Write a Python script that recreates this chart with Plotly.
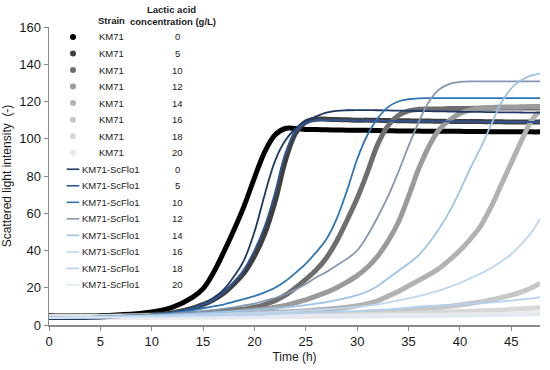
import plotly.graph_objects as go

# ---------------- data ----------------
time_h = [0, 5, 10, 12, 14, 15, 16, 17, 18, 19, 20, 21, 22, 23, 24, 25, 26, 27, 28, 29,
          30, 31, 32, 33, 34, 35, 36, 37, 38, 39, 40, 41, 42, 43, 44, 45, 46, 47, 47.8]

lactic_acid = [0, 5, 10, 12, 14, 16, 18, 20]
strains = ["KM71"] * 8 + ["KM71-ScFlo1"] * 8

km71_0 = [5, 5, 7, 9.5, 15, 19.5, 28, 39, 51, 64, 79, 93, 102, 105.5, 105.5, 105, 105, 104.8, 104.7, 104.6,
          104.5, 104.5, 104.4, 104.3, 104.2, 104.2, 104.1, 104, 104, 104, 104, 103.9, 103.9, 103.8, 103.8, 103.8, 103.8, 103.7, 103.7]
km71_5 = [4.5, 4.5, 5.5, 6.5, 9, 11, 13.5, 17, 22, 28, 37, 49, 66, 88, 103, 109, 110.5, 110.5, 110.3, 110.2,
          110, 110, 109.9, 109.8, 109.7, 109.6, 109.5, 109.5, 109.4, 109.3, 109.3, 109.2, 109.2, 109.1, 109.1, 109, 109, 109, 109]
km71_10 = [4.5, 4.5, 5, 5.5, 6, 6.5, 7, 7.5, 8, 8.5, 9.5, 11, 13, 16, 20, 24.5, 29.5, 36, 45, 56,
           68, 82, 97, 107, 112.5, 115, 115.8, 116, 116, 116.2, 116.3, 116.3, 116.4, 116.4, 116.5, 116.5, 116.5, 116.5, 116.5]
km71_12 = [4.5, 4.5, 5, 5.2, 5.5, 5.8, 6, 6.5, 7, 7.5, 8, 8.5, 9.5, 10.5, 12, 13.5, 15.5, 17.5, 20, 23,
           26.5, 31, 37, 45, 55, 69, 84, 96, 105, 110, 113.5, 115.5, 116.5, 116.8, 117, 117, 117.2, 117.3, 117.3]
km71_14 = [4.5, 4.5, 5, 5, 5.2, 5.3, 5.5, 5.6, 5.8, 6, 6.2, 6.5, 6.8, 7, 7.3, 7.6, 8, 8.5, 9, 9.5,
           10.3, 11.5, 13, 15.5, 18, 21, 24, 27, 30.5, 35, 40, 46, 53, 63, 75, 87, 99, 110, 115]
km71_16 = [4.5, 4.5, 4.8, 4.8, 5, 5, 5, 5.1, 5.2, 5.3, 5.4, 5.5, 5.6, 5.7, 5.8, 5.9, 6, 6.1, 6.2, 6.3,
           6.5, 6.7, 7, 7.3, 7.6, 8, 8.4, 8.9, 9.4, 10, 10.7, 11.5, 12.4, 13.5, 14.7, 16, 17.8, 20, 22.5]
km71_18 = [4.5, 4.5, 4.6, 4.6, 4.7, 4.7, 4.7, 4.8, 4.8, 4.8, 4.9, 4.9, 5, 5, 5.1, 5.1, 5.2, 5.3, 5.4, 5.5,
           5.6, 5.7, 5.8, 5.9, 6, 6.2, 6.4, 6.6, 6.8, 7, 7.2, 7.4, 7.6, 7.8, 8.1, 8.4, 8.7, 9, 9.3]
km71_20 = [4, 4, 4.1, 4.1, 4.2, 4.2, 4.2, 4.3, 4.3, 4.3, 4.4, 4.4, 4.4, 4.5, 4.5, 4.5, 4.6, 4.6, 4.6, 4.7,
           4.7, 4.8, 4.8, 4.9, 4.9, 5, 5, 5.1, 5.1, 5.2, 5.3, 5.4, 5.5, 5.6, 5.7, 5.8, 5.9, 6.1, 6.2]

flo1_0 = [3.2, 3.5, 5.5, 6.5, 9, 11, 14.5, 19, 26, 35, 50, 70, 88, 99, 105.5, 109.5, 112, 114, 115, 115.3,
          115.4, 115.4, 115.3, 115.2, 115.1, 115, 114.9, 114.8, 114.7, 114.6, 114.5, 114.4, 114.4, 114.3, 114.2, 114.2, 114.1, 114, 114]
flo1_5 = [4, 4.5, 5.5, 6.5, 9, 11, 13.5, 17.5, 23, 30, 40, 53, 71, 92, 104, 108.5, 110, 110, 110, 110,
          109.8, 109.8, 109.7, 109.6, 109.5, 109.5, 109.4, 109.4, 109.3, 109.3, 109.2, 109.2, 109.1, 109.1, 109, 109, 109, 109, 109]
flo1_10 = [4, 4.5, 5.5, 6.5, 8, 9, 10, 11, 12.5, 14, 15.5, 17.5, 20, 23.5, 28, 33, 39, 46, 57, 72,
           89, 102, 111, 117, 120, 121.2, 121.7, 121.8, 121.8, 121.8, 121.8, 121.8, 121.8, 121.8, 121.8, 121.8, 121.8, 121.8, 121.8]
flo1_12 = [4, 4.5, 5.5, 6, 7, 7.5, 8, 8.7, 9.5, 10.5, 11.5, 13, 14.5, 16.5, 19, 22, 25.5, 28.5, 32, 35.5,
           40, 48, 58, 69, 82, 96, 109, 120, 126.5, 129.5, 130.5, 130.8, 130.8, 130.8, 130.8, 130.8, 130.8, 130.8, 130.8]
flo1_14 = [4, 4.5, 5, 5.5, 6, 6.3, 6.6, 7, 7.3, 7.7, 8, 8.5, 9, 9.5, 10, 10.7, 11.5, 12.3, 13.3, 14.5,
           16, 18, 21, 25, 29, 33, 37.5, 44, 52, 61, 72, 84, 95, 107, 119, 127, 131.5, 134, 135]
flo1_16 = [4, 4.5, 5, 5.2, 5.5, 5.6, 5.8, 6, 6.2, 6.4, 6.6, 6.8, 7, 7.2, 7.5, 7.8, 8.1, 8.4, 8.8, 9.2,
           9.7, 10.3, 11, 12, 13.2, 14.3, 15.5, 17, 18.5, 20.5, 22.5, 25, 27.5, 30.5, 34, 38, 43.5, 50, 57]
flo1_18 = [4, 4.3, 4.6, 4.7, 4.9, 5, 5.1, 5.2, 5.3, 5.4, 5.5, 5.7, 5.9, 6.1, 6.3, 6.5, 6.7, 6.9, 7.1, 7.3,
           7.5, 7.8, 8.1, 8.4, 8.8, 9.3, 9.8, 10.2, 10.5, 10.8, 11.1, 11.4, 11.7, 12.1, 12.6, 13.1, 13.7, 14.3, 15]
flo1_20 = [3.8, 3.9, 4, 4, 4.1, 4.1, 4.1, 4.2, 4.2, 4.2, 4.3, 4.3, 4.3, 4.4, 4.4, 4.4, 4.5, 4.5, 4.5, 4.6,
           4.6, 4.7, 4.7, 4.8, 4.8, 4.9, 4.9, 5, 5, 5.1, 5.1, 5.2, 5.2, 5.3, 5.3, 5.4, 5.4, 5.5, 5.5]

km71_series = [km71_0, km71_5, km71_10, km71_12, km71_14, km71_16, km71_18, km71_20]
flo1_series = [flo1_0, flo1_5, flo1_10, flo1_12, flo1_14, flo1_16, flo1_18, flo1_20]

x_ticks = [0, 5, 10, 15, 20, 25, 30, 35, 40, 45]
y_ticks = [0, 20, 40, 60, 80, 100, 120, 140, 160]

# ---------------- styles ----------------
km71_colors = ["#000000", "#3f3f3f", "#6e6e6e", "#9b9b9b", "#b2b2b2", "#c6c6c6", "#d8d8d8", "#eaeaea"]
flo1_colors = ["#1f3864", "#2f5597", "#2e75b6", "#8497b0", "#9dc3e6", "#bdd7ee", "#b4d0ee", "#dfe8f3"]
FONT = "Arial, 'Liberation Sans', sans-serif"
TXT = "#1a1a1a"

fig = go.Figure()

for vals, col in zip(km71_series, km71_colors):
    fig.add_trace(go.Scatter(x=time_h, y=vals, mode="lines", line=dict(color=col, width=5, shape="spline"),
                             showlegend=False, hoverinfo="skip"))
for vals, col in zip(flo1_series, flo1_colors):
    fig.add_trace(go.Scatter(x=time_h, y=vals, mode="lines", line=dict(color=col, width=1.8, shape="spline"),
                             showlegend=False, hoverinfo="skip"))

# ---------------- custom legend table (overlay axes in pixel units) ----------------
L, R, T, B = 49, 540, 27, 325
row0, row_gap = 37, 16.53
n_rows = len(strains)
row_y = [row0 + i * row_gap for i in range(n_rows)]
mark_x = [73] * n_rows


def px_to_paper(px, py):
    return (px - L) / (R - L), (B - py) / (B - T)


fig.add_trace(go.Scatter(x=mark_x[:8], y=row_y[:8], mode="markers", xaxis="x2", yaxis="y2",
                         marker=dict(symbol="circle", size=6, color=km71_colors, line=dict(width=0)),
                         showlegend=False, hoverinfo="skip"))
fig.add_trace(go.Scatter(x=mark_x[8:], y=row_y[8:], mode="markers", xaxis="x2", yaxis="y2",
                         marker=dict(symbol="line-ew", size=9, line=dict(color=flo1_colors, width=1.6)),
                         showlegend=False, hoverinfo="skip"))

ann = []
conc_all = lactic_acid + lactic_acid
for yv, s, c in zip(row_y, strains, conc_all):
    for cx, label in ((111, s), (177, str(c))):
        ax_, ay_ = px_to_paper(cx, yv)
        ann.append(dict(x=ax_, y=ay_, xref="paper", yref="paper", text=label, showarrow=False,
                        xanchor="center", yanchor="middle", font=dict(size=9.5, color=TXT, family=FONT)))
for cx, cy, label in ((111, 21, "<b>Strain</b>"), (171, 9.5, "<b>Lactic acid</b>"),
                      (173, 21.5, "<b>concentration (g/L)</b>")):
    ax_, ay_ = px_to_paper(cx, cy)
    ann.append(dict(x=ax_, y=ay_, xref="paper", yref="paper", text=label, showarrow=False,
                    xanchor="center", yanchor="middle", font=dict(size=9.5, color=TXT, family=FONT)))

axis_common = dict(showgrid=False, zeroline=False, showline=True, linecolor="#8a8a8a", linewidth=1.5,
                   ticks="outside", ticklen=4, tickwidth=1, tickcolor="#8a8a8a", automargin=False,
                   tickfont=dict(size=13, color=TXT, family=FONT))

fig.update_layout(
    template="none",
    width=550, height=370,
    margin=dict(l=L, r=550 - R, t=T, b=370 - B, pad=0, autoexpand=False),
    paper_bgcolor="white", plot_bgcolor="white",
    font=dict(family=FONT),
    xaxis=dict(range=[0, 47.8], tickvals=x_ticks, **axis_common,
               title=dict(text="Time (h)", font=dict(size=12, color=TXT, family=FONT), standoff=4)),
    yaxis=dict(range=[0, 160], tickvals=y_ticks, **axis_common,
               title=dict(text="Scattered light intensity  (-)", font=dict(size=12, color=TXT, family=FONT),
                          standoff=6)),
    xaxis2=dict(overlaying="x", range=[L, R], visible=False, fixedrange=True, automargin=False),
    yaxis2=dict(overlaying="y", range=[B, T], visible=False, fixedrange=True, automargin=False),
    annotations=ann,
    showlegend=False,
    hovermode=False,
)

fig.write_html("out.html", config={"displayModeBar": False, "staticPlot": True},
               post_script="document.body.style.margin='0';document.body.style.overflow='hidden';")
